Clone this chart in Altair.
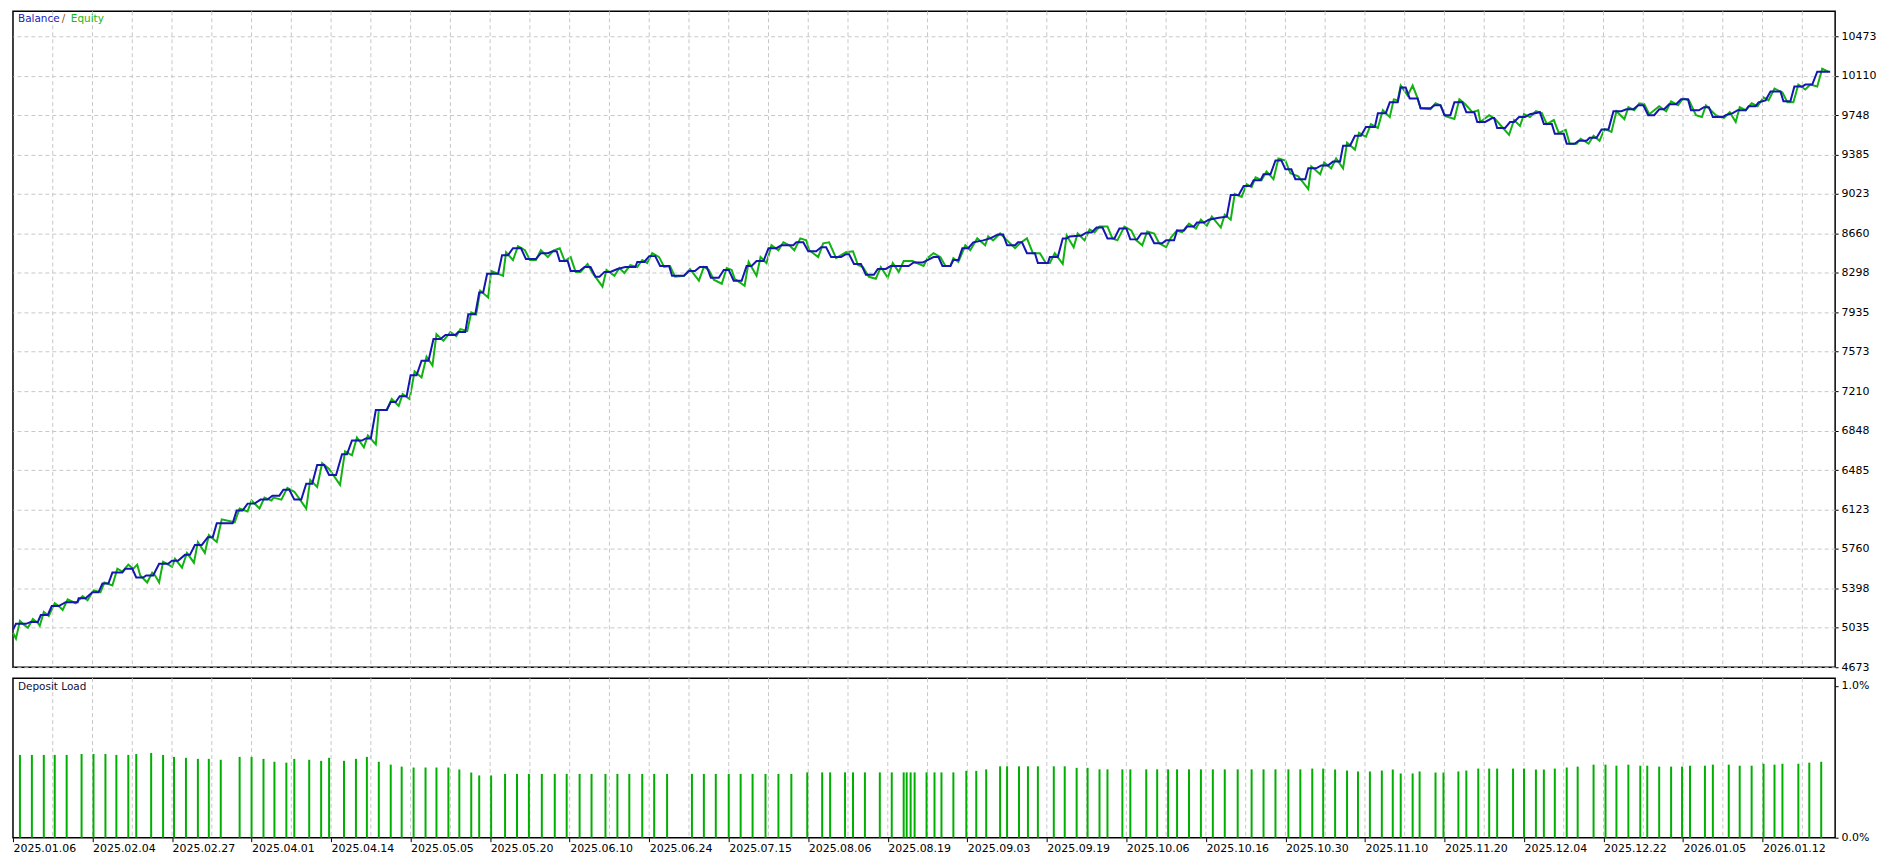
import altair as alt
import pandas as pd

# ---------------- data ----------------
# x position "n" = sequence position along the tester timeline (0 .. 1833)
x_label_pos = [0, 80, 160, 240, 320, 400, 480, 560, 640, 720, 800, 880, 960, 1040,
               1120, 1200, 1280, 1360, 1440, 1520, 1600, 1680, 1760]
x_labels = ["2025.01.06", "2025.02.04", "2025.02.27", "2025.04.01", "2025.04.14",
            "2025.05.05", "2025.05.20", "2025.06.10", "2025.06.24", "2025.07.15",
            "2025.08.06", "2025.08.19", "2025.09.03", "2025.09.19", "2025.10.06",
            "2025.10.16", "2025.10.30", "2025.11.10", "2025.11.20", "2025.12.04",
            "2025.12.22", "2026.01.05", "2026.01.12"]
grid_x = [40, 80, 120, 160, 200, 240, 280, 320, 360, 400, 440, 480, 520, 560, 600,
          640, 680, 720, 760, 800, 840, 880, 920, 960, 1000, 1040, 1080, 1120, 1160,
          1200, 1240, 1280, 1320, 1360, 1400, 1440, 1480, 1520, 1560, 1600, 1640,
          1680, 1720, 1760, 1800]

y_ticks = [4673, 5035.5, 5398, 5760.5, 6123, 6485.5, 6848, 7210.5, 7573, 7935.5,
           8298, 8660.5, 9023, 9385.5, 9748, 10110.5, 10473]
y_labels = ["4673", "5035", "5398", "5760", "6123", "6485", "6848", "7210", "7573",
            "7935", "8298", "8660", "9023", "9385", "9748", "10110", "10473"]

# balance: levels (start n, end n, value)
bal_start = [0, 3, 18, 28, 39, 53, 66, 80, 90, 100, 113, 124, 134, 147, 160, 173, 183, 196,
             205, 225, 236, 249, 261, 272, 283, 295, 306, 318, 331, 341, 355, 365, 380, 389,
             400, 411, 423, 435, 448, 458, 469, 477, 492, 503, 516, 531, 543, 550, 561, 575,
             586, 595, 608, 616, 628, 640, 651, 663, 680, 691, 702, 715, 725, 738, 748, 760,
             773, 788, 800, 813, 823, 838, 846, 858, 870, 883, 906, 920, 926, 935, 946, 955,
             966, 976, 983, 991, 1000, 1011, 1020, 1031, 1043, 1056, 1063, 1075, 1080, 1090,
             1101, 1113, 1124, 1135, 1148, 1160, 1171, 1181, 1191, 1203, 1213, 1221, 1225,
             1238, 1248, 1258, 1270, 1280, 1290, 1303, 1316, 1328, 1338, 1350, 1361, 1373,
             1385, 1396, 1405, 1416, 1430, 1440, 1450, 1462, 1473, 1488, 1493, 1506, 1515,
             1526, 1536, 1540, 1551, 1563, 1575, 1586, 1598, 1610, 1623, 1635, 1645, 1656,
             1666, 1678, 1688, 1701, 1710, 1723, 1730, 1735, 1746, 1756, 1763, 1768, 1781,
             1792, 1803, 1815]
bal_end = [0, 13, 25, 35, 46, 65, 73, 86, 96, 110, 120, 131, 141, 156, 166, 178, 190, 201,
           221, 231, 243, 256, 268, 278, 290, 301, 313, 325, 336, 351, 360, 376, 385, 396,
           406, 418, 430, 445, 455, 465, 473, 488, 498, 511, 526, 538, 547, 558, 570, 581,
           590, 601, 608, 626, 635, 646, 660, 675, 686, 698, 710, 720, 733, 743, 755, 768,
           785, 795, 808, 818, 833, 841, 853, 866, 878, 901, 915, 920, 931, 943, 951, 961,
           966, 976, 983, 996, 1008, 1015, 1028, 1041, 1051, 1060, 1063, 1075, 1085, 1096,
           1108, 1120, 1131, 1143, 1156, 1168, 1178, 1188, 1198, 1203, 1213, 1221, 1233,
           1245, 1255, 1265, 1276, 1286, 1300, 1311, 1323, 1335, 1345, 1356, 1370, 1381,
           1393, 1401, 1413, 1426, 1436, 1446, 1458, 1470, 1481, 1490, 1501, 1510, 1521,
           1526, 1536, 1548, 1560, 1571, 1583, 1593, 1605, 1618, 1630, 1640, 1651, 1661,
           1673, 1685, 1696, 1706, 1720, 1723, 1730, 1743, 1753, 1756, 1763, 1778, 1788,
           1800, 1810, 1828]
bal_value = [5017, 5072, 5090, 5153, 5235, 5271, 5307, 5362, 5443, 5543, 5579, 5498, 5516,
             5625, 5652, 5706, 5797, 5869, 5996, 6114, 6177, 6214, 6250, 6304, 6214, 6359,
             6531, 6440, 6631, 6757, 6776, 7038, 7111, 7165, 7356, 7491, 7691, 7727, 7754,
             7917, 8117, 8289, 8461, 8525, 8425, 8479, 8497, 8407, 8316, 8352, 8262, 8307,
             8334, 8352, 8398, 8452, 8361, 8271, 8316, 8352, 8253, 8325, 8226, 8361, 8407,
             8525, 8552, 8579, 8497, 8534, 8443, 8470, 8380, 8280, 8334, 8361, 8393, 8416,
             8443, 8361, 8416, 8525, 8579, 8597, 8615, 8651, 8552, 8579, 8479, 8389, 8443,
             8615, 8633, 8642, 8670, 8715, 8615, 8706, 8606, 8660, 8570, 8597, 8688, 8724,
             8760, 8787, 8805, 8815, 9014, 9096, 9150, 9204, 9331, 9250, 9159, 9259, 9286,
             9322, 9467, 9558, 9639, 9766, 9866, 10002, 9902, 9811, 9839, 9748, 9866, 9775,
             9685, 9721, 9630, 9685, 9730, 9757, 9775, 9666, 9576, 9485, 9512, 9540, 9617,
             9784, 9802, 9839, 9748, 9802, 9848, 9893, 9793, 9821, 9730, 9748, 9766, 9793,
             9830, 9866, 9884, 9966, 9875, 10011, 10029, 10147]

# equity: points (n, value)
eq_n = [0, 3, 7, 11, 15, 20, 25, 27, 31, 36, 42, 46, 50, 55, 63, 70, 75, 81, 88, 92, 100,
        105, 110, 116, 121, 125, 128, 135, 140, 143, 147, 151, 160, 163, 170, 175, 182, 186,
        193, 197, 205, 210, 223, 228, 236, 240, 248, 253, 260, 262, 270, 276, 283, 288, 295,
        299, 306, 311, 318, 329, 334, 341, 346, 353, 357, 365, 368, 376, 381, 388, 392, 399,
        404, 411, 416, 422, 426, 433, 440, 446, 450, 457, 461, 466, 470, 478, 481, 493, 496,
        503, 508, 515, 520, 526, 531, 538, 544, 550, 555, 561, 566, 571, 578, 583, 593, 597,
        605, 610, 615, 621, 628, 633, 638, 643, 650, 655, 661, 666, 675, 681, 690, 695, 700,
        705, 713, 718, 723, 726, 736, 740, 748, 752, 758, 763, 770, 775, 781, 786, 792, 798,
        801, 810, 815, 821, 828, 838, 845, 850, 855, 861, 868, 873, 880, 885, 891, 896, 905,
        911, 916, 920, 926, 933, 938, 943, 946, 951, 958, 963, 970, 978, 981, 986, 993, 1000,
        1008, 1013, 1020, 1026, 1033, 1039, 1043, 1048, 1056, 1060, 1067, 1071, 1078, 1083,
        1088, 1093, 1101, 1106, 1111, 1118, 1125, 1130, 1136, 1141, 1148, 1153, 1160, 1165,
        1171, 1176, 1183, 1190, 1195, 1201, 1206, 1215, 1219, 1225, 1229, 1236, 1241, 1246,
        1250, 1256, 1261, 1268, 1273, 1280, 1285, 1293, 1303, 1306, 1315, 1319, 1326, 1331,
        1338, 1342, 1350, 1354, 1361, 1366, 1373, 1378, 1385, 1389, 1393, 1396, 1403, 1408,
        1413, 1416, 1426, 1431, 1436, 1441, 1450, 1455, 1461, 1468, 1474, 1476, 1485, 1491,
        1498, 1505, 1510, 1516, 1520, 1526, 1532, 1538, 1543, 1550, 1555, 1562, 1566, 1573,
        1577, 1585, 1590, 1596, 1601, 1608, 1613, 1621, 1625, 1631, 1636, 1641, 1646, 1656,
        1663, 1668, 1675, 1680, 1686, 1693, 1699, 1703, 1713, 1721, 1727, 1733, 1737, 1743,
        1749, 1755, 1761, 1766, 1772, 1780, 1785, 1791, 1796, 1803, 1808, 1815, 1820, 1826]
eq_value = [4990, 4936, 5099, 5063, 5036, 5117, 5081, 5054, 5181, 5144, 5262, 5235, 5199,
            5298, 5262, 5326, 5289, 5380, 5362, 5452, 5425, 5579, 5552, 5616, 5579, 5616,
            5516, 5452, 5543, 5516, 5452, 5643, 5597, 5670, 5588, 5724, 5634, 5824, 5724,
            5887, 5824, 6032, 6005, 6132, 6105, 6205, 6132, 6232, 6205, 6232, 6214, 6322,
            6286, 6223, 6132, 6395, 6331, 6549, 6495, 6350, 6658, 6621, 6785, 6694, 6803,
            6721, 7038, 7038, 7138, 7075, 7183, 7138, 7392, 7337, 7528, 7446, 7736, 7673,
            7754, 7718, 7781, 7763, 7936, 7917, 8135, 8071, 8316, 8271, 8488, 8416, 8543,
            8506, 8416, 8416, 8506, 8443, 8506, 8525, 8407, 8443, 8307, 8307, 8380, 8298,
            8171, 8325, 8271, 8343, 8298, 8370, 8352, 8416, 8389, 8479, 8443, 8352, 8361,
            8262, 8271, 8334, 8226, 8352, 8325, 8235, 8198, 8343, 8325, 8244, 8180, 8398,
            8271, 8443, 8389, 8552, 8506, 8579, 8552, 8506, 8615, 8597, 8506, 8443, 8570,
            8579, 8434, 8488, 8497, 8370, 8352, 8262, 8244, 8352, 8253, 8389, 8307, 8407,
            8407, 8380, 8361, 8434, 8479, 8443, 8361, 8361, 8434, 8398, 8552, 8506, 8615,
            8552, 8633, 8597, 8660, 8597, 8525, 8570, 8615, 8479, 8479, 8389, 8389, 8479,
            8380, 8642, 8534, 8660, 8597, 8697, 8670, 8724, 8724, 8615, 8597, 8724, 8688,
            8597, 8552, 8679, 8660, 8570, 8534, 8624, 8688, 8670, 8751, 8706, 8787, 8733,
            8815, 8715, 8833, 8787, 9023, 8996, 9114, 9086, 9177, 9150, 9231, 9159, 9349,
            9331, 9213, 9186, 9068, 9277, 9204, 9313, 9259, 9349, 9259, 9494, 9431, 9585,
            9549, 9666, 9630, 9793, 9730, 9893, 9884, 10020, 9929, 10020, 9902, 9811, 9802,
            9857, 9839, 9739, 9712, 9893, 9848, 9775, 9793, 9685, 9748, 9712, 9639, 9567,
            9703, 9648, 9757, 9730, 9784, 9766, 9666, 9703, 9585, 9612, 9485, 9485, 9531,
            9485, 9558, 9512, 9621, 9594, 9784, 9712, 9821, 9793, 9857, 9848, 9757, 9830,
            9784, 9875, 9839, 9902, 9884, 9748, 9730, 9839, 9748, 9721, 9775, 9685, 9821,
            9793, 9857, 9830, 9911, 9884, 9993, 9956, 9866, 9866, 10029, 9984, 10029, 10011,
            10174, 10147]

# deposit load (%), one bar per deal
dep_n = [7, 19, 31, 42, 54, 69, 81, 93, 104, 116, 124, 139, 151, 162, 174, 186, 197, 209,
         228, 240, 252, 263, 275, 283, 298, 310, 318, 333, 345, 356, 368, 380, 391, 403,
         415, 426, 438, 449, 461, 469, 481,
         495, 507, 519, 532, 545, 557, 570, 582, 596, 608, 620, 633, 645, 658, 683, 695,
         707, 720, 732, 744, 757, 770, 783,
         799, 814, 822, 837, 845, 857, 872, 884, 896, 899, 903, 907, 919, 927, 934, 946,
         959, 969, 979, 993, 1000, 1012, 1021, 1031, 1047, 1058, 1070, 1081, 1093, 1101,
         1116, 1124, 1140, 1151, 1162, 1171, 1183,
         1195, 1207, 1219, 1232, 1246, 1258, 1270, 1283, 1295,
         1307, 1318, 1330, 1342, 1353, 1365, 1377, 1388, 1396, 1408, 1415, 1431, 1439,
         1454, 1462, 1474, 1485, 1493, 1509, 1520, 1532, 1540, 1551, 1563, 1574, 1590,
         1602, 1613, 1625, 1637, 1644, 1656, 1668, 1679, 1687, 1702, 1710, 1726, 1737,
         1749, 1761, 1772, 1780, 1796, 1807, 1819]
dep_pct = [0.545, 0.545, 0.545, 0.545, 0.545, 0.551, 0.551, 0.551, 0.545, 0.545, 0.551,
           0.558, 0.545, 0.532, 0.526, 0.519, 0.519, 0.513, 0.532, 0.532, 0.519, 0.500,
           0.494, 0.519, 0.513, 0.506, 0.526, 0.506, 0.519, 0.532, 0.500, 0.481, 0.468,
           0.462, 0.462, 0.462, 0.462, 0.449, 0.429, 0.410, 0.410,
           0.420, 0.420, 0.420, 0.420, 0.420, 0.420, 0.420, 0.420, 0.420, 0.420, 0.420,
           0.420, 0.420, 0.420, 0.420, 0.420, 0.420, 0.420, 0.420, 0.420, 0.420, 0.420,
           0.420,
           0.430, 0.430, 0.430, 0.430, 0.430, 0.430, 0.430, 0.430, 0.430, 0.430, 0.430,
           0.430, 0.430, 0.430, 0.430, 0.430, 0.440, 0.440, 0.450, 0.470, 0.470, 0.470,
           0.470, 0.470, 0.470, 0.470, 0.460, 0.460, 0.450, 0.450, 0.450, 0.450, 0.450,
           0.450, 0.450, 0.450, 0.450,
           0.450, 0.450, 0.450, 0.450, 0.450, 0.450, 0.450, 0.450, 0.450,
           0.455, 0.455, 0.449, 0.442, 0.436, 0.436, 0.442, 0.449, 0.423, 0.423, 0.436,
           0.429, 0.429, 0.436, 0.442, 0.455, 0.455, 0.455, 0.455, 0.455, 0.449, 0.449,
           0.455, 0.462, 0.468, 0.481, 0.481, 0.474, 0.481, 0.474, 0.474, 0.468, 0.468,
           0.468, 0.474, 0.474, 0.481, 0.481, 0.474, 0.474, 0.487, 0.481, 0.487, 0.487,
           0.494, 0.500]

# ---------------- build ----------------
bal_rows = []
for s, e, v in zip(bal_start, bal_end, bal_value):
    bal_rows.append({"n": s, "v": v})
    if e != s:
        bal_rows.append({"n": e, "v": v})
bal_df = pd.DataFrame(bal_rows)
eq_df = pd.DataFrame({"n": eq_n, "v": eq_value})
dep_df = pd.DataFrame({"n": dep_n, "p": dep_pct})
grid_df = pd.DataFrame({"n": grid_x})

FONT = "DejaVu Sans"
W = 1828
H_MAIN = 658
H_DEP = 160
GRID = "#c8c8c8"
BLUE = "#1616b0"
GREEN = "#12b212"

xscale = alt.Scale(domain=[0, 1833], nice=False, zero=False)
yscale = alt.Scale(domain=[4673, 10702], nice=False, zero=False)

ylab_expr = "[" + ",".join("'%s'" % s for s in y_labels) + "][indexof([" + \
    ",".join(str(v) for v in y_ticks) + "], datum.value)]"
xlab_expr = "[" + ",".join("'%s'" % s for s in x_labels) + "][round(datum.value / 80)]"

x_axis_bottom = alt.Axis(values=x_label_pos, labelExpr=xlab_expr, title=None, grid=False,
                         domain=False, tickSize=4, tickColor="#000", labelAlign="left",
                         labelPadding=1, labelFont=FONT, labelFontSize=11,
                         labelColor="#000", labelOverlap=False, labelFlush=False)

# ---- main panel ----
vgrid_main = alt.Chart(grid_df).mark_rule(color=GRID, strokeDash=[4, 3], strokeWidth=1).encode(
    x=alt.X("n:Q", scale=xscale, axis=None)
)

eq_line = alt.Chart(eq_df).mark_line(color=GREEN, strokeWidth=2).encode(
    x=alt.X("n:Q", scale=xscale, axis=None),
    y=alt.Y("v:Q", scale=yscale,
            axis=alt.Axis(orient="right", values=y_ticks, labelExpr=ylab_expr, title=None,
                          grid=True, gridColor=GRID, gridDash=[4, 3], domain=False,
                          tickSize=3, tickColor="#000", labelPadding=3,
                          labelFont=FONT, labelFontSize=11, labelColor="#000")),
)
bal_line = alt.Chart(bal_df).mark_line(color=BLUE, strokeWidth=2).encode(
    x=alt.X("n:Q", scale=xscale, axis=None),
    y=alt.Y("v:Q", scale=yscale),
)

t1 = alt.Chart(pd.DataFrame({"t": ["Balance"]})).mark_text(
    align="left", baseline="middle", font=FONT, fontSize=10.5, color="#2020b8").encode(
    x=alt.value(5), y=alt.value(8), text="t:N")
t2 = alt.Chart(pd.DataFrame({"t": ["/"]})).mark_text(
    align="left", baseline="middle", font=FONT, fontSize=10.5, color="#8a5a20").encode(
    x=alt.value(49), y=alt.value(8), text="t:N")
t3 = alt.Chart(pd.DataFrame({"t": ["Equity"]})).mark_text(
    align="left", baseline="middle", font=FONT, fontSize=10.5, color="#20b820").encode(
    x=alt.value(58), y=alt.value(8), text="t:N")

main = alt.layer(eq_line, vgrid_main, bal_line, t1, t2, t3).properties(width=W, height=H_MAIN)

# ---- deposit load panel ----
dep_bars = alt.Chart(dep_df).mark_rule(color="#00b000", strokeWidth=2).encode(
    x=alt.X("n:Q", scale=xscale, axis=x_axis_bottom),
    y=alt.Y("p:Q", scale=alt.Scale(domain=[0, 1.05], nice=False),
            axis=alt.Axis(orient="right", values=[0, 1],
                          labelExpr="format(datum.value, '.1f') + '%'",
                          title=None, grid=False, domain=False, tickSize=3, tickColor="#000",
                          labelPadding=3, labelFont=FONT, labelFontSize=11, labelColor="#000")),
    y2=alt.datum(0),
)
vgrid_dep = alt.Chart(grid_df).mark_rule(color=GRID, strokeDash=[4, 3], strokeWidth=1).encode(
    x=alt.X("n:Q", scale=xscale, axis=x_axis_bottom)
)
t4 = alt.Chart(pd.DataFrame({"t": ["Deposit Load"]})).mark_text(
    align="left", baseline="middle", font=FONT, fontSize=10.5, color="#101040").encode(
    x=alt.value(5), y=alt.value(9), text="t:N")

dep = alt.layer(vgrid_dep, dep_bars, t4).properties(width=W, height=H_DEP)

chart = alt.vconcat(main, dep, spacing=3).properties(
    padding={"left": 0, "top": 0, "right": 0, "bottom": 0},
    background="white",
).configure_view(stroke="#000000", strokeWidth=1.5)

chart.save("out.html", embed_options={"renderer": "svg", "actions": False})
